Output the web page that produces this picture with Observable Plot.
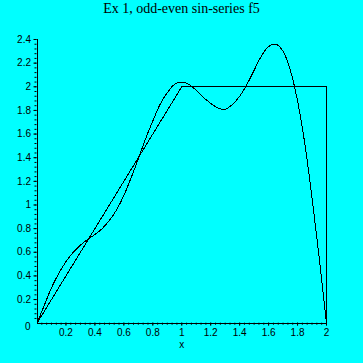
<!DOCTYPE html>
<html>
<head>
<meta charset="utf-8">
<script src="https://cdn.jsdelivr.net/npm/d3@7"></script>
<script src="https://cdn.jsdelivr.net/npm/@observablehq/plot@0.6"></script>
<style>
  html, body { margin: 0; padding: 0; background: #00ffff; width: 363px; height: 363px; overflow: hidden; }
  #title { height: 30px; box-sizing: border-box; padding-top: 1px; text-align: center;
           font-family: "Liberation Serif", "Times New Roman", serif; font-size: 14px; line-height: 16px; color: #000; }
  #chart svg { display: block; }
</style>
</head>
<body>
<div id="title">Ex 1, odd-even sin-series f5</div>
<div id="chart"></div>
<script>
// Sine-series approximation
const seriesX = [0, 0.05, 0.1, 0.15, 0.2, 0.25, 0.3, 0.35, 0.4, 0.45, 0.5, 0.55, 0.6, 0.65, 0.7, 0.75, 0.8, 0.85, 0.9, 0.95,
                 1, 1.05, 1.1, 1.15, 1.2, 1.25, 1.3, 1.35, 1.4, 1.45, 1.5, 1.55, 1.6, 1.65, 1.7, 1.75, 1.8, 1.85, 1.9, 1.95, 2];
const seriesY = [0, 0.15, 0.30, 0.42, 0.52, 0.60, 0.66, 0.71, 0.75, 0.80, 0.87, 0.96, 1.08, 1.23, 1.39, 1.56, 1.71, 1.85, 1.95, 2.02,
                 2.04, 2.02, 1.97, 1.91, 1.86, 1.82, 1.81, 1.85, 1.92, 2.02, 2.14, 2.26, 2.34, 2.36, 2.30, 2.14, 1.88, 1.52, 1.06, 0.55, 0];
// Original function f (piecewise linear)
const fX = [0, 1, 2, 2];
const fY = [0, 2, 2, 0];
// Tick labels
const xTicks = [0.2, 0.4, 0.6, 0.8, 1, 1.2, 1.4, 1.6, 1.8, 2];
const yTicks = [0.2, 0.4, 0.6, 0.8, 1, 1.2, 1.4, 1.6, 1.8, 2, 2.2, 2.4];
const xMinorStep = 1 / 30;
const yMinorStep = 0.04;

const series = seriesX.map((x, i) => ({x, y: seriesY[i]}));
const fData = fX.map((x, i) => ({x, y: fY[i]}));
const xMinor = d3.range(1, 61).map(k => k * xMinorStep);
const yMinor = d3.range(1, 61).map(k => +(k * yMinorStep).toFixed(4));

const chart = Plot.plot({
  width: 363,
  height: 333,
  marginLeft: 36.5,
  marginRight: 37,
  marginTop: 9,
  marginBottom: 40.3,
  style: {background: "#00ffff", color: "#000", fontFamily: "'Liberation Sans', Arial, sans-serif", fontSize: "10px"},
  x: {domain: [0, 2], label: null},
  y: {domain: [0, 2.4], label: null},
  marks: [
    Plot.axisX(xMinor, {tickSize: 2, tickFormat: () => "", stroke: "#000"}),
    Plot.axisX(xTicks, {tickSize: 3, tickPadding: 3, tickFormat: d => String(d), stroke: "#000", fill: "#000"}),
    Plot.axisY(yMinor, {tickSize: 2, tickFormat: () => "", stroke: "#000"}),
    Plot.axisY(yTicks, {tickSize: 3, tickPadding: 3, tickFormat: d => String(d), stroke: "#000", fill: "#000"}),
    Plot.axisY([0], {tickSize: 0, tickPadding: 6.5, tickFormat: d => String(d), dy: 4, fill: "#000"}),
    Plot.ruleX([0], {stroke: "#000", shapeRendering: "crispEdges"}),
    Plot.ruleY([0], {stroke: "#000", shapeRendering: "crispEdges"}),
    Plot.line(fData, {x: "x", y: "y", stroke: "#000", strokeWidth: 1, shapeRendering: "crispEdges"}),
    Plot.line(series, {x: "x", y: "y", curve: "catmull-rom", stroke: "#000", strokeWidth: 1, shapeRendering: "crispEdges"}),
    Plot.text([{x: 1, t: "x"}], {x: "x", text: "t", frameAnchor: "bottom", lineAnchor: "middle", dy: 22, fill: "#000"})
  ]
});
document.getElementById("chart").appendChild(chart);
</script>
</body>
</html>
